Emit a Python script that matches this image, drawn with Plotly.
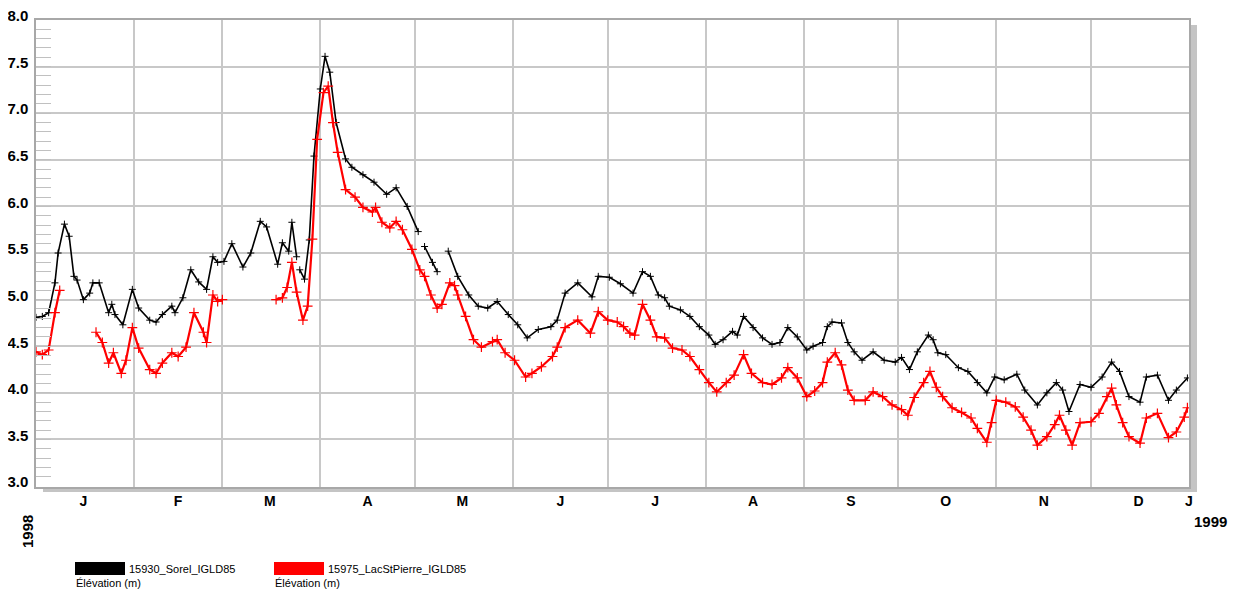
import pandas as pd
import plotly.graph_objects as go

# day offsets from 1998-01-01 and water levels (m), None = missing data
sorel_days = [
    0, 2, 4, 6, 7, 9, 10.5, 12, 13, 15,
    17, 18, 20, 23, 24, 25, 27.5, 30.5, 32.5, 36,
    38, 40, 43, 44, 46.5, 49, 51.5, 54, 56, 57.5,
    59.5, 62, 65.5, 68, 71, 73, 76.5, 78, 80, 81,
    82.5, 83, 83.5, 85, 86.5, 88, 90, 91.5, 93, 95,
    98, 100, 103.5, 107, 111, 114, 117.5, 121, 122, 123,
    125.5, 127, 129, 130.5, 133.5, 137, 140, 143, 146, 149.5,
    152.5, 155.5, 159, 163, 165, 167.5, 171.5, 176, 178, 181.5,
    185, 189, 192, 194.5, 197, 199, 200.5, 204, 207, 210,
    213, 215, 217.5, 220.5, 222, 224, 227, 230, 233, 235.5,
    238, 241, 244, 246, 249, 250.5, 252, 255, 257, 259,
    261.5, 265, 268.5, 272, 274, 276.5, 279, 282.5, 284, 285.5,
    288, 292, 295, 298, 301, 303.5, 306.5, 310.5, 313, 317,
    320, 323, 325, 327, 330.5, 334, 337.5, 340.5, 343, 346,
    349.5, 351.5, 355, 358.5, 361, 364.5,
]
sorel_level = [
    4.81, 4.82, 4.86, 5.18, 5.50, 5.81, 5.68, 5.25, 5.21, 5.00,
    5.07, 5.18, 5.18, 4.86, 4.95, 4.84, 4.73, 5.11, 4.91, 4.78,
    4.76, 4.84, 4.93, 4.86, 5.02, 5.32, 5.19, 5.11, 5.46, 5.40,
    5.41, 5.60, 5.35, 5.50, 5.84, 5.78, 5.38, 5.61, 5.52, 5.83,
    5.46, None, 5.32, 5.22, 5.64, 6.54, 7.26, 7.61, 7.44, 6.90,
    6.51, 6.42, 6.34, 6.26, 6.13, 6.20, 6.00, 5.73, None, 5.57,
    5.40, 5.30, None, 5.52, 5.25, 5.05, 4.93, 4.91, 4.98, 4.84,
    4.73, 4.59, 4.68, 4.71, 4.78, 5.07, 5.18, 5.03, 5.25, 5.24,
    5.17, 5.07, 5.30, 5.25, 5.05, 5.02, 4.93, 4.89, 4.82, 4.71,
    4.62, 4.52, 4.57, 4.66, 4.62, 4.82, 4.70, 4.59, 4.52, 4.54,
    4.70, 4.60, 4.46, 4.50, 4.54, 4.71, 4.76, 4.75, 4.54, 4.44,
    4.35, 4.44, 4.35, 4.33, 4.38, 4.25, 4.44, 4.62, 4.57, 4.43,
    4.41, 4.27, 4.23, 4.11, 4.00, 4.17, 4.14, 4.20, 4.03, 3.87,
    4.00, 4.11, 4.03, 3.80, 4.09, 4.06, 4.17, 4.33, 4.23, 3.96,
    3.90, 4.17, 4.19, 3.92, 4.03, 4.16,
]

lsp_days = [
    0, 2, 4, 6, 7.5, 13, 19, 21, 23, 24.5,
    27, 28.5, 30.5, 32.5, 36, 38, 40, 43, 45, 47.5,
    50, 53, 54, 56, 57.5, 59, 67, 76, 78, 79.5,
    81, 82.5, 84.5, 86, 87.5, 89, 91, 92.5, 94, 95.5,
    98, 101, 103.5, 106.5, 107.5, 109.5, 112, 114, 116, 119,
    121.5, 123, 125, 127, 128.5, 131, 132.5, 133.5, 136, 138.5,
    141, 144.5, 146, 148.5, 151.5, 155, 157, 160, 163.5, 165,
    167.5, 171.5, 175.5, 178, 181, 184, 186, 188, 189.5, 192,
    194.5, 196.5, 199, 201.5, 204.5, 207, 210, 213, 215.5, 218.5,
    221, 224, 226.5, 230, 233, 236, 238, 241, 244, 246.5,
    249, 250.5, 253, 255, 257, 259, 262.5, 265, 268, 271,
    274, 276, 278, 281, 283, 285, 287, 290, 293, 296,
    298, 301, 302.5, 304, 307, 310, 312.5, 315, 317, 320,
    322.5, 324, 326, 328, 330.5, 334, 336.5, 339, 340.5, 342,
    344, 346, 349.5, 351.5, 355, 358.5, 361, 363.5, 364.5,
]
lsp_level = [
    4.44, 4.41, 4.46, 4.86, 5.10, None, 4.65, 4.54, 4.32, 4.43,
    4.21, 4.35, 4.70, 4.48, 4.25, 4.21, 4.32, 4.43, 4.39, 4.49,
    4.86, 4.65, 4.54, 5.05, 4.98, 5.00, None, 5.00, 5.02, 5.13,
    5.40, 5.08, 4.78, 4.93, 5.65, 6.72, 7.22, 7.29, 6.90, 6.58,
    6.18, 6.10, 5.99, 5.94, 5.99, 5.83, 5.77, 5.84, 5.75, 5.54,
    5.32, 5.25, 5.05, 4.91, 4.95, 5.18, 5.15, 5.05, 4.82, 4.57,
    4.49, 4.55, 4.57, 4.43, 4.35, 4.17, 4.21, 4.28, 4.39, 4.49,
    4.70, 4.78, 4.64, 4.87, 4.78, 4.76, 4.71, 4.64, 4.62, 4.95,
    4.78, 4.60, 4.59, 4.48, 4.46, 4.39, 4.25, 4.11, 4.01, 4.11,
    4.19, 4.41, 4.21, 4.11, 4.09, 4.16, 4.27, 4.16, 3.96, 4.02,
    4.11, 4.33, 4.43, 4.30, 4.03, 3.92, 3.92, 4.01, 3.96, 3.87,
    3.82, 3.76, 3.95, 4.11, 4.23, 4.06, 3.96, 3.84, 3.79, 3.73,
    3.62, 3.47, 3.68, 3.92, 3.90, 3.85, 3.74, 3.60, 3.44, 3.53,
    3.66, 3.76, 3.60, 3.44, 3.68, 3.69, 3.78, 3.96, 4.05, 3.87,
    3.68, 3.53, 3.46, 3.73, 3.78, 3.52, 3.58, 3.74, 3.84,
]

month_ticks = ["1998-01-16", "1998-02-15", "1998-03-16", "1998-04-16", "1998-05-16",
               "1998-06-16", "1998-07-16", "1998-08-16", "1998-09-16", "1998-10-16",
               "1998-11-16", "1998-12-16", "1999-01-01"]
month_labels = ["J", "F", "M", "A", "M", "J", "J", "A", "S", "O", "N", "D", "J"]
y_ticks = [3.0, 3.5, 4.0, 4.5, 5.0, 5.5, 6.0, 6.5, 7.0, 7.5, 8.0]

start = pd.Timestamp("1998-01-01")
sorel_x = start + pd.to_timedelta(sorel_days, unit="D")
lsp_x = start + pd.to_timedelta(lsp_days, unit="D")

fig = go.Figure()
fig.add_trace(go.Scatter(x=sorel_x, y=sorel_level, mode="lines+markers", name="15930_Sorel_IGLD85",
                         line=dict(color="black", width=1.6), connectgaps=False,
                         marker=dict(symbol="cross-thin", size=5, line=dict(color="black", width=1))))
fig.add_trace(go.Scatter(x=lsp_x, y=lsp_level, mode="lines+markers", name="15975_LacStPierre_IGLD85",
                         line=dict(color="#ff0000", width=2.2), connectgaps=False,
                         marker=dict(symbol="cross-thin", size=7, line=dict(color="#ff0000", width=1.2))))

grid = "#c8c8c8"
fig.update_xaxes(
    range=["1998-01-01", "1999-01-01"], automargin=False,
    tickmode="array", tickvals=month_ticks, ticktext=month_labels, ticks="",
    showgrid=False, zeroline=False,
    tickfont=dict(family="Liberation Sans", size=14, color="black", weight="bold"),
    minor=dict(tickmode="linear", tick0="1998-01-01", dtick="M1", showgrid=True,
               gridcolor=grid, gridwidth=1.5, ticks=""),
    showline=True, linecolor="#a8a8a8", linewidth=1.5, mirror=True,
)
fig.update_yaxes(
    range=[2.99, 8.0], automargin=False,
    tickmode="array", tickvals=y_ticks, ticktext=[f"{v:.1f}" for v in y_ticks],
    ticks="inside", ticklen=15, tickcolor="#c0c0c0", ticklabelshift=-4, ticklabelstandoff=3,
    ticklabeloverflow="allow",
    showgrid=True, gridcolor=grid, gridwidth=1.5, zeroline=False,
    tickfont=dict(family="Liberation Sans", size=15, color="black", weight="bold"),
    minor=dict(tickmode="linear", tick0=3.0, dtick=0.1, ticks="inside", ticklen=15,
               tickcolor="#c0c0c0", showgrid=False),
    showline=True, linecolor="#a8a8a8", linewidth=1.5, mirror=True,
)

W, H = 1153, 467  # plot area in px, used for pixel offsets in paper units
shapes = [
    # drop shadow right and bottom of the plot frame
    dict(type="rect", xref="paper", yref="paper", x0=1 + 1 / W, x1=1 + 8 / W,
         y0=-5 / H, y1=1 - 5 / H, fillcolor="#c4c4c4", line_width=0, layer="below"),
    dict(type="rect", xref="paper", yref="paper", x0=7 / W, x1=1 + 8 / W,
         y0=-5 / H, y1=-1 / H, fillcolor="#c4c4c4", line_width=0, layer="below"),
    # legend swatches
    dict(type="rect", xref="paper", yref="paper", x0=39 / W, x1=89 / W,
         y0=-88 / H, y1=-75 / H, fillcolor="black", line_width=0),
    dict(type="rect", xref="paper", yref="paper", x0=238 / W, x1=288 / W,
         y0=-88 / H, y1=-75 / H, fillcolor="#ff0000", line_width=0),
]

legend_font = dict(family="Liberation Sans", size=11, color="black")
annotations = [
    dict(text="15930_Sorel_IGLD85", x=91 / W, y=-81.5 / H, xanchor="left", yanchor="middle"),
    dict(text="Élévation (m)", x=38 / W, y=-96 / H, xanchor="left", yanchor="middle"),
    dict(text="15975_LacStPierre_IGLD85", x=290 / W, y=-81.5 / H, xanchor="left", yanchor="middle"),
    dict(text="Élévation (m)", x=237 / W, y=-96 / H, xanchor="left", yanchor="middle"),
]
for a in annotations:
    a.update(xref="paper", yref="paper", showarrow=False, font=legend_font)

year_font = dict(family="Liberation Sans", size=15, color="black", weight="bold")
annotations += [
    dict(text="1998", x=-9 / W, y=-45 / H, xref="paper", yref="paper", showarrow=False,
         textangle=-90, font=year_font, xanchor="center", yanchor="middle"),
    dict(text="1999", x=1 + 21 / W, y=-34 / H, xref="paper", yref="paper", showarrow=False,
         font=year_font, xanchor="center", yanchor="middle"),
]

# page body has an 8px margin, so the figure is shrunk to fit the window
fig.update_layout(
    width=1225, height=581,
    margin=dict(l=28, r=44, t=12, b=102),
    paper_bgcolor="white", plot_bgcolor="white",
    showlegend=False,
    shapes=shapes, annotations=annotations,
)

fig.write_html("out.html")
